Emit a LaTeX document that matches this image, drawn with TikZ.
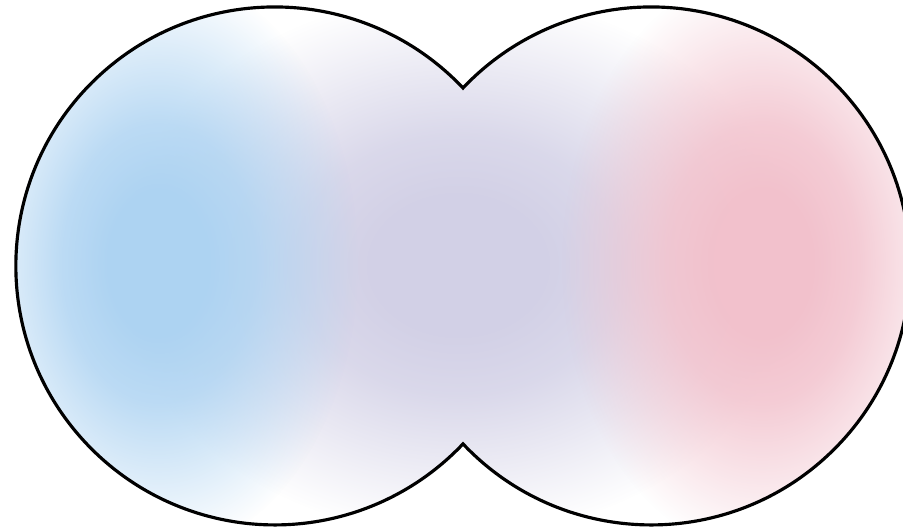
\documentclass[tikz,border=0pt]{standalone}
\usetikzlibrary{fadings}
\pgfdeclareradialshading{plateaushade}{\pgfpointorigin}{color(0bp)=(pgftransparent!0); color(6bp)=(pgftransparent!0); color(12bp)=(pgftransparent!18); color(18bp)=(pgftransparent!55); color(25bp)=(pgftransparent!100); color(50bp)=(pgftransparent!100)}
\pgfdeclarefading{plateau}{\pgfuseshading{plateaushade}}
\definecolor{lav}{HTML}{D2D0E6}
\definecolor{lblue}{HTML}{ADD3F2}
\definecolor{lpink}{HTML}{F2C1CC}
\tikzset{outline/.style={draw=black, line width=1.8pt, line join=miter}}
\begin{document}
\begin{tikzpicture}[x=0.02cm,y=0.02cm]
\useasboundingbox (0,0) rectangle (903,531);
\clip (0,0) rectangle (903,531);
\fill[white] (0,0) rectangle (903,531);
\begin{scope}
\clip (275,264) circle (259) (651,264) circle (259);
\fill[lav, path fading=plateau] (458,266) ellipse (340 and 270);
\fill[lblue, path fading=plateau] (158,268) ellipse (200 and 290);
\fill[lpink, path fading=plateau] (762,268) ellipse (200 and 290);
\end{scope}
\draw[outline] (463,443) arc[start angle=43.4, end angle=316.6, radius=259]
  arc[start angle=223.4, end angle=496.6, radius=259] -- cycle;
\end{tikzpicture}
\end{document}
